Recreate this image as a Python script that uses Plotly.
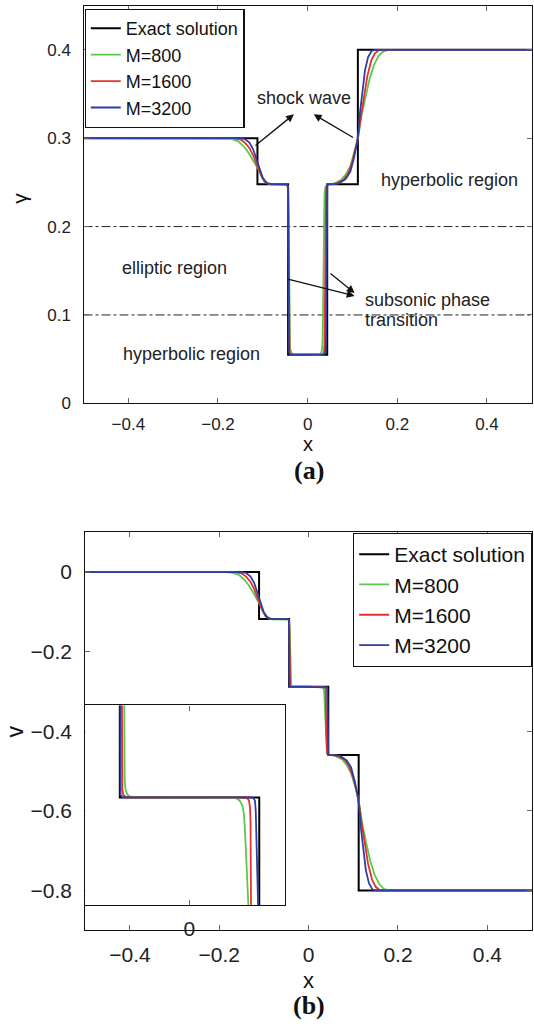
import plotly.graph_objects as go

# ---------------- data: (a) gamma ----------------
exact_g_x = [-0.5, -0.112, -0.0436, 0.0436, 0.112, 0.5]
exact_g_y = [0.3, 0.248, 0.055, 0.248, 0.4, 0.4]

m800_g_x = [-0.5, -0.185, -0.17, -0.155, -0.145, -0.135, -0.125, -0.115, -0.108, -0.102, -0.096, -0.09, -0.082,
            -0.07, -0.055, -0.048, -0.045, -0.0432, -0.0422, -0.0414, -0.0408, -0.0403, -0.0395, -0.0383, -0.0365,
            -0.034, -0.03, -0.02, 0.0, 0.02, 0.026, 0.0295, 0.0318, 0.0332, 0.0342, 0.0352, 0.0362, 0.0375, 0.0395,
            0.043, 0.05, 0.06, 0.075, 0.085, 0.095, 0.104, 0.112, 0.12, 0.128, 0.138, 0.148, 0.158, 0.168, 0.18,
            0.2, 0.5]
m800_g_y = [0.3, 0.3, 0.2993, 0.2965, 0.292, 0.286, 0.278, 0.270, 0.263, 0.2565, 0.252, 0.249, 0.2475,
            0.2475, 0.248, 0.2478, 0.2465, 0.24, 0.21, 0.15, 0.1, 0.075, 0.064, 0.0595, 0.057,
            0.0558, 0.0552, 0.055, 0.055, 0.055, 0.0552, 0.0565, 0.06, 0.07, 0.1, 0.16, 0.21, 0.235, 0.2445,
            0.2475, 0.248, 0.249, 0.253, 0.259, 0.268, 0.283, 0.299, 0.325, 0.345, 0.367, 0.383, 0.393, 0.398, 0.4,
            0.4, 0.4]

m1600_g_x = [-0.5, -0.165, -0.15, -0.14, -0.13, -0.122, -0.115, -0.109, -0.103, -0.097, -0.09, -0.08, -0.06,
             -0.048, -0.0445, -0.0433, -0.0427, -0.0422, -0.0418, -0.0412, -0.0402, -0.0385, -0.036, -0.03, 0.0,
             0.03, 0.0345, 0.0368, 0.0378, 0.0384, 0.039, 0.0398, 0.041, 0.0428, 0.046, 0.055, 0.065, 0.08, 0.09,
             0.1, 0.107, 0.112, 0.118, 0.125, 0.133, 0.142, 0.15, 0.16, 0.5]
m1600_g_y = [0.3, 0.3, 0.2985, 0.295, 0.289, 0.281, 0.272, 0.264, 0.257, 0.2515, 0.249, 0.248, 0.248,
             0.2478, 0.246, 0.235, 0.19, 0.12, 0.08, 0.063, 0.058, 0.056, 0.0553, 0.055, 0.055,
             0.055, 0.0555, 0.059, 0.068, 0.1, 0.18, 0.228, 0.242, 0.2465, 0.2478, 0.248, 0.249, 0.253, 0.26,
             0.274, 0.288, 0.3, 0.322, 0.346, 0.37, 0.388, 0.396, 0.4, 0.4]

m3200_g_x = [-0.5, -0.15, -0.14, -0.13, -0.122, -0.116, -0.111, -0.106, -0.1, -0.094, -0.087, -0.08, -0.06,
             -0.046, -0.0438, -0.0434, -0.0431, -0.0428, -0.0423, -0.0413, -0.039, -0.03, 0.0, 0.035, 0.039,
             0.0408, 0.0414, 0.0418, 0.0422, 0.0428, 0.0438, 0.0455, 0.05, 0.06, 0.07, 0.085, 0.095, 0.103, 0.109,
             0.1125, 0.117, 0.122, 0.128, 0.135, 0.143, 0.152, 0.5]
m3200_g_y = [0.3, 0.3, 0.299, 0.295, 0.288, 0.279, 0.27, 0.262, 0.255, 0.2505, 0.2485, 0.248, 0.248,
             0.2478, 0.245, 0.22, 0.14, 0.08, 0.062, 0.057, 0.0555, 0.055, 0.055, 0.0553, 0.057,
             0.065, 0.1, 0.17, 0.225, 0.243, 0.2472, 0.248, 0.248, 0.248, 0.249, 0.254, 0.262, 0.277, 0.292,
             0.303, 0.33, 0.355, 0.377, 0.392, 0.399, 0.4, 0.4]

region_levels = [0.2, 0.1]

# ---------------- data: (b) v ----------------
exact_v_x = [-0.5, -0.111, -0.0437, 0.044, 0.112, 0.5]
exact_v_y = [0.0, -0.118, -0.288, -0.46, -0.8, -0.8]

m800_v_x = [-0.5, -0.185, -0.17, -0.155, -0.145, -0.135, -0.125, -0.115, -0.108, -0.102, -0.096, -0.09, -0.082,
            -0.07, -0.055, -0.048, -0.0455, -0.0435, -0.042, -0.0413, -0.041, -0.0408, -0.0406, -0.0400, -0.039,
            -0.0375, -0.0355, -0.0335, -0.03, 0.0, 0.025, 0.028, 0.0297, 0.0315, 0.0334, 0.0343, 0.0349, 0.0355,
            0.0363, 0.0372, 0.0382, 0.0395, 0.041, 0.044, 0.05, 0.06, 0.075, 0.085, 0.095, 0.104, 0.112, 0.12,
            0.128, 0.138, 0.148, 0.158, 0.168, 0.18, 0.2, 0.5]
m800_v_y = [0.0, 0.0, -0.002, -0.008, -0.018, -0.032, -0.05, -0.068, -0.084, -0.099, -0.109, -0.116, -0.119,
            -0.119, -0.118, -0.1182, -0.1195, -0.125, -0.15, -0.19, -0.23, -0.26, -0.28, -0.2845, -0.2865,
            -0.2875, -0.2879, -0.288, -0.288, -0.288, -0.288, -0.2882, -0.2885, -0.2895, -0.292, -0.296, -0.303,
            -0.32, -0.342, -0.38, -0.42, -0.445, -0.455, -0.459, -0.46, -0.462, -0.471, -0.485, -0.505, -0.538,
            -0.574, -0.632, -0.677, -0.726, -0.762, -0.784, -0.796, -0.8, -0.8, -0.8]

m1600_v_x = [-0.5, -0.165, -0.15, -0.14, -0.13, -0.122, -0.115, -0.109, -0.103, -0.097, -0.09, -0.08, -0.055,
             -0.047, -0.0445, -0.0432, -0.0425, -0.0423, -0.0421, -0.0415, -0.040, -0.038, -0.035, 0.0, 0.034,
             0.0365, 0.0375, 0.0382, 0.0385, 0.0388, 0.0392, 0.040, 0.0415, 0.045, 0.055, 0.065, 0.08, 0.09, 0.1,
             0.107, 0.112, 0.118, 0.125, 0.133, 0.142, 0.15, 0.16, 0.5]
m1600_v_y = [0.0, 0.0, -0.0034, -0.0113, -0.025, -0.043, -0.0635, -0.0817, -0.0976, -0.110, -0.1158, -0.118,
             -0.118, -0.1182, -0.1205, -0.135, -0.19, -0.25, -0.284, -0.2868, -0.2877, -0.288, -0.288, -0.288,
             -0.288, -0.2885, -0.2895, -0.293, -0.30, -0.34, -0.40, -0.445, -0.457, -0.46, -0.46, -0.462, -0.471,
             -0.487, -0.518, -0.549, -0.576, -0.626, -0.679, -0.733, -0.773, -0.791, -0.8, -0.8]

m3200_v_x = [-0.5, -0.15, -0.14, -0.13, -0.122, -0.116, -0.111, -0.106, -0.1, -0.094, -0.087, -0.08, -0.055,
             -0.046, -0.0442, -0.0436, -0.0434, -0.0433, -0.0432, -0.0425, -0.041, -0.035, 0.0, 0.039, 0.0405,
             0.0413, 0.0418, 0.042, 0.0422, 0.0428, 0.044, 0.047, 0.055, 0.07, 0.085, 0.095, 0.103, 0.109, 0.1125,
             0.117, 0.122, 0.128, 0.135, 0.143, 0.152, 0.5]
m3200_v_y = [0.0, 0.0, -0.0023, -0.0113, -0.0272, -0.0477, -0.0681, -0.0863, -0.1021, -0.1123, -0.1168, -0.118,
             -0.118, -0.1182, -0.12, -0.14, -0.2, -0.26, -0.2865, -0.2877, -0.288, -0.288, -0.288, -0.288, -0.2885,
             -0.2897, -0.295, -0.34, -0.42, -0.452, -0.458, -0.46, -0.46, -0.462, -0.473, -0.491, -0.525, -0.558,
             -0.583, -0.643, -0.699, -0.749, -0.782, -0.798, -0.8, -0.8]

series_names = ["Exact solution", "M=800", "M=1600", "M=3200"]
series_colors = ["#000000", "#5cc84e", "#e5322d", "#2c3fa6"]
series_widths = [2.0, 1.8, 1.8, 1.8]

x_ticks = [-0.4, -0.2, 0, 0.2, 0.4]
g_ticks = [0, 0.1, 0.2, 0.3, 0.4]
v_ticks = [0, -0.2, -0.4, -0.6, -0.8]
inset_ticks = [0]

FONT = "Liberation Sans, Arial, Helvetica, sans-serif"
SERIF = "Liberation Serif, Times New Roman, serif"
W, H = 534, 1030

fig = go.Figure()

top_data = [(exact_g_x, exact_g_y), (m800_g_x, m800_g_y), (m1600_g_x, m1600_g_y), (m3200_g_x, m3200_g_y)]
bot_data = [(exact_v_x, exact_v_y), (m800_v_x, m800_v_y), (m1600_v_x, m1600_v_y), (m3200_v_x, m3200_v_y)]

# dash-dot region boundaries (drawn first, beneath the curves)
for lv in region_levels:
    fig.add_trace(go.Scatter(x=[-0.5, 0.5], y=[lv, lv], mode="lines", showlegend=False,
                             line=dict(color="#222222", width=1, dash="dashdot"),
                             xaxis="x", yaxis="y"))

for i, (xs, ys) in enumerate(top_data):
    fig.add_trace(go.Scatter(x=xs, y=ys, mode="lines", name=series_names[i],
                             line=dict(color=series_colors[i], width=series_widths[i],
                                       shape="hv" if i == 0 else "linear"),
                             xaxis="x", yaxis="y", legend="legend"))
for i, (xs, ys) in enumerate(bot_data):
    fig.add_trace(go.Scatter(x=xs, y=ys, mode="lines", name=series_names[i],
                             line=dict(color=series_colors[i], width=series_widths[i],
                                       shape="hv" if i == 0 else "linear"),
                             xaxis="x2", yaxis="y2", legend="legend2"))
for i, (xs, ys) in enumerate(bot_data):
    fig.add_trace(go.Scatter(x=xs, y=ys, mode="lines", name=series_names[i], showlegend=False,
                             line=dict(color=series_colors[i], width=series_widths[i],
                                       shape="hv" if i == 0 else "linear"),
                             xaxis="x3", yaxis="y3"))

axis_common = dict(showgrid=False, zeroline=False, showline=True, linecolor="#111111", linewidth=1.3,
                   mirror="ticks", ticks="inside", ticklen=5, tickwidth=1, tickcolor="#666666")


def px_x(p):
    return p / W


def px_y(p):
    return 1 - p / H


fig.update_layout(
    width=W, height=H, margin=dict(l=0, r=0, t=0, b=0),
    paper_bgcolor="white", plot_bgcolor="white",
    font=dict(family=FONT, color="#222222"),
    xaxis=dict(domain=[px_x(83.5), px_x(531.8)], range=[-0.5, 0.5], anchor="y", tickvals=x_ticks,
               tickfont=dict(size=17), ticklabelstandoff=5, **axis_common),
    yaxis=dict(domain=[px_y(407.3), px_y(5.7)], range=[0, 0.45], anchor="x", tickvals=g_ticks,
               tickfont=dict(size=17), ticklabelstandoff=8, **axis_common),
    xaxis2=dict(domain=[px_x(85.3), px_x(532)], range=[-0.5, 0.5], anchor="y2", tickvals=x_ticks,
                tickfont=dict(size=21), ticklabelstandoff=5, **axis_common),
    yaxis2=dict(domain=[px_y(939.3), px_y(537.5)], range=[-0.9, 0.1], anchor="x2", tickvals=v_ticks,
                tickfont=dict(size=21), ticklabelstandoff=8, **axis_common),
    xaxis3=dict(domain=[px_x(85.3), px_x(284.7)], range=[-0.0654, 0.06], anchor="y3", tickvals=inset_ticks,
                tickfont=dict(size=21), ticklabelstandoff=4, **axis_common),
    yaxis3=dict(domain=[px_y(914.3), px_y(712.3)], range=[-0.342, -0.242], anchor="x3", tickvals=[],
                showticklabels=False, **axis_common),
    legend=dict(x=px_x(84.6), y=px_y(9), xanchor="left", yanchor="top", bgcolor="white",
                bordercolor="#111111", borderwidth=1.2, font=dict(size=18, color="#111111"),
                tracegroupgap=0, itemwidth=30),
    legend2=dict(x=px_x(532), y=px_y(538), xanchor="right", yanchor="top", bgcolor="white",
                 bordercolor="#111111", borderwidth=1.2, font=dict(size=21, color="#111111"),
                 tracegroupgap=0, itemwidth=30),
)

# text annotations on panel (a)
txt = dict(size=18, color="#222222", family=FONT)
fig.add_annotation(x=-0.008, y=0.3455, xref="x", yref="y", text="shock wave", showarrow=False, font=txt)
fig.add_annotation(x=0.3164, y=0.253, xref="x", yref="y", text="hyperbolic region", showarrow=False, font=txt)
fig.add_annotation(x=-0.2977, y=0.1529, xref="x", yref="y", text="elliptic region", showarrow=False, font=txt)
fig.add_annotation(x=0.1237, y=0.1173, xref="x", yref="y", text="subsonic phase", showarrow=False,
                   xanchor="left", yanchor="middle", font=txt)
fig.add_annotation(x=0.1237, y=0.0942, xref="x", yref="y", text="transition", showarrow=False,
                   xanchor="left", yanchor="middle", font=txt)
fig.add_annotation(x=-0.2593, y=0.0561, xref="x", yref="y", text="hyperbolic region", showarrow=False, font=txt)

arrows = [((-0.0307, 0.327), (-0.1197, 0.2905)),
          ((0.0135, 0.327), (0.1047, 0.2998)),
          ((0.1047, 0.1215), (-0.0474, 0.1409)),
          ((0.1047, 0.1248), (0.0476, 0.1484))]
for (hx, hy), (tx, ty) in arrows:
    fig.add_annotation(x=hx, y=hy, ax=tx, ay=ty, xref="x", yref="y", axref="x", ayref="y",
                       text="", showarrow=True, arrowhead=2, arrowsize=1.2, arrowwidth=1.3,
                       arrowcolor="#111111")

# axis titles and panel labels (explicitly centred)
lab = dict(xref="paper", yref="paper", showarrow=False, xanchor="center", yanchor="middle")
fig.add_annotation(x=px_x(307.6), y=px_y(448), text="x",
                   font=dict(size=20, color="#111111", family=FONT), **lab)
fig.add_annotation(x=px_x(308.6), y=px_y(475), text="<b>(a)</b>",
                   font=dict(size=26, color="#111111", family=SERIF), **lab)
fig.add_annotation(x=px_x(18.8), y=px_y(200), text="γ", textangle=-90,
                   font=dict(size=21, color="#111111", family=FONT), **lab)
fig.add_annotation(x=px_x(308.6), y=px_y(990), text="x",
                   font=dict(size=22, color="#111111", family=FONT), **lab)
fig.add_annotation(x=px_x(308.6), y=px_y(1015), text="<b>(b)</b>",
                   font=dict(size=26, color="#111111", family=SERIF), **lab)
fig.add_annotation(x=px_x(15.3), y=px_y(738.3), text="v", textangle=-90,
                   font=dict(size=23, color="#111111", family=FONT), **lab)

fig.write_html("out.html")
